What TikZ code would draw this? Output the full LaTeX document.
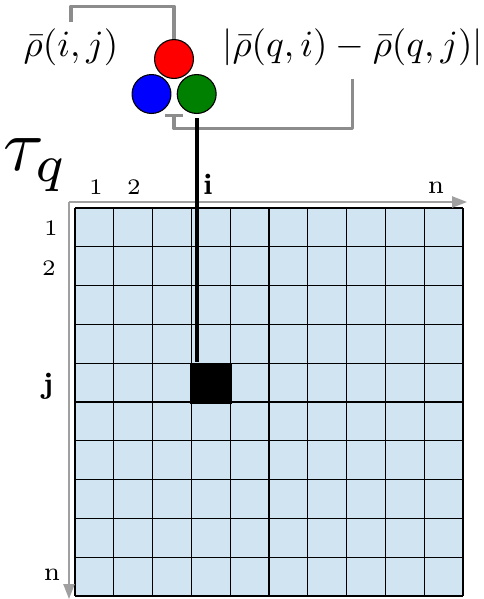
\documentclass[tikz,border=0pt]{standalone}
\usepackage{amsmath,amssymb}
\usepackage{tikz}
\usetikzlibrary{calc,arrows.meta}
\definecolor{cellblue}{RGB}{208,228,242}
\definecolor{linkgray}{RGB}{140,140,140}
\definecolor{axisgray}{RGB}{160,160,160}
\definecolor{ballgreen}{RGB}{0,128,0}

\begin{document}
\begin{tikzpicture}[x=0.27pt, y=-0.27pt, line join=round,
	link/.style={linkgray, line width=0.9pt},
	ball/.style={circle, draw=black, line width=0.3pt, minimum size=10.5pt, inner sep=0pt},
	tick/.style={font=\fontsize{6}{7}\selectfont, inner sep=0pt},
	axis/.style={axisgray, line width=0.45pt, -{Triangle[length=4pt, width=3pt]}}]
	\useasboundingbox (0,0) rectangle (484,599);
	% Ma trận 10x10
	\fill[cellblue] (75,208) rectangle (463,596);
	\foreach \k in {0,...,10} {
		\draw[line width=0.35pt] ({75+38.8*\k},208) -- ({75+38.8*\k},596);
		\draw[line width=0.35pt] (75,{208+38.8*\k}) -- (463,{208+38.8*\k});
	}
	% Hai mũi tên chỉ số
	\coordinate (o) at (69,202);
	\coordinate (xend) at (467,202);
	\coordinate (yend) at (69,599);
	\draw[axis] (o) -- (xend);
	\draw[axis] (o) -- (yend);
	% Chỉ số cột và hàng
	\node[tick] (c1) at (96,187) {1};
	\node[tick] (c2) at (134,187) {2};
	\node[tick, font=\fontsize{8}{9}\selectfont\bfseries] (ci) at (208,184) {i};
	\node[tick, font=\fontsize{7}{8}\selectfont] (cn) at (436,188) {n};
	\node[tick] (r1) at (51,228) {1};
	\node[tick] (r2) at (49,268) {2};
	\node[tick, font=\fontsize{8}{9}\selectfont\bfseries] (rj) at (48,386) {j};
	\node[tick, font=\fontsize{7}{8}\selectfont] (rn) at (52,575) {n};
	\node[scale=2, inner sep=0pt] (tau) at (36,165) {$\tau_q$};
	% Ô (i,j)
	\node[fill=black, minimum size=11.1pt, inner sep=0pt] (sq) at (211,383.5) {};
	% Ba quả cầu
	\node[ball, fill=red] (rball) at (174,59) {};
	\node[ball, fill=blue] (bball) at (151.5,94) {};
	\node[ball, fill=ballgreen] (gball) at (196.7,94) {};
	% Hai biểu thức
	\node[inner sep=1.5pt] (lab1) at (71,47) {$\bar{\rho}(i,j)$};
	\node[inner sep=1.5pt] (lab2) at (352.5,47) {$|\bar{\rho}(q,i)-\bar{\rho}(q,j)|$};
	% Các đường nối
	\draw[link] (lab1.north) -- ++(0,-16) -| (rball.north);
	\coordinate (foot) at ($(bball.south)!.5!(gball.south)$);
	\draw[link, shorten <=1.9pt, -{Bar[width=5pt]}] (lab2.south) |- ([yshift=-3.9pt]foot) -- (foot);
	\draw[line width=1.1pt] ([yshift=-1.2pt]gball.south) -- (gball.south |- sq.north);
\end{tikzpicture}
\end{document}
